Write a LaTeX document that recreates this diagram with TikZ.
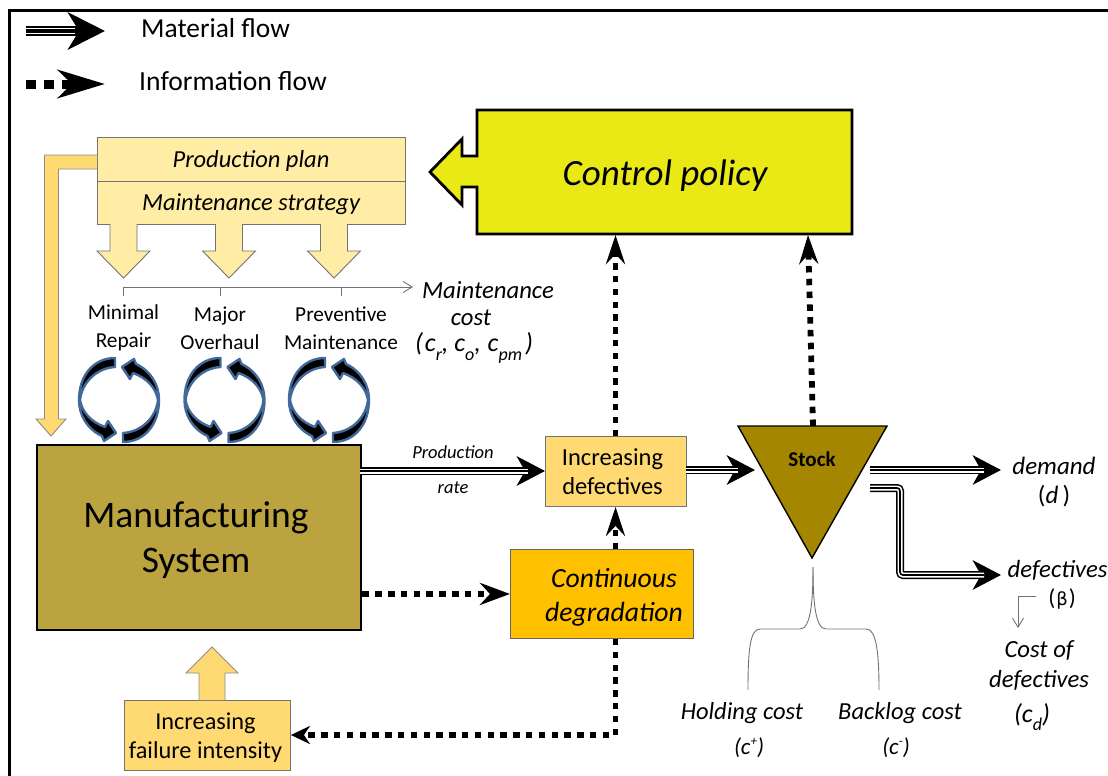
\documentclass[tikz,border=0pt]{standalone}
\usepackage{fontspec}
\setmainfont{Carlito}
\newfontfamily\dejafont{DejaVu Sans}
\usetikzlibrary{arrows.meta,calc}
\newcommand{\fs}[1]{\fontsize{#1}{#1}\selectfont}
\newcommand{\subs}[1]{\raisebox{-.32em}{\fs{18}\itshape #1}}
\newcommand{\sups}[1]{\raisebox{.42em}{\fs{13}\itshape #1}}
\tikzset{
  x=1pt,y=-1pt,
  lbl/.style={inner sep=0pt,align=center,text=black},
  pale/.style={fill=paley,draw=black!55,line width=.9pt},
  gold/.style={fill=goldy,draw=black!55,line width=.9pt},
  rectbox/.style={rectangle,inner sep=0pt,anchor=north west,align=center},
  thin gray/.style={draw=black!55,line width=.9pt},
  infoflow/.style={line width=5.8pt,dash pattern=on 6.5pt off 6.3pt,-{Stealth[length=29pt,width=19pt,inset=10pt]}},
  infoshort/.style={line width=5.8pt,dash pattern=on 6.5pt off 6.3pt,-{Stealth[length=19pt,width=18pt,inset=6pt]}},
  cyc/.style={fill=black,draw=cycblue,line width=2.4pt,line join=round},
}
\definecolor{paley}{HTML}{FFEDA6}
\definecolor{goldy}{HTML}{FFDA73}
\definecolor{cycblue}{HTML}{41699A}
\definecolor{ctrl}{HTML}{E9E916}
\definecolor{mfg}{HTML}{BBA340}
\definecolor{stockc}{HTML}{A58600}
\definecolor{cont}{HTML}{FFC000}
% triple-line material arrow
\newcommand{\matflow}[2][]{%
  \draw[line width=8pt,#1,-{Stealth[length=28pt,width=29pt,inset=8pt]}] #2;
  \draw[line width=5pt,white,#1,shorten >=17pt] #2;
  \draw[line width=1.7pt,#1,shorten >=17pt] #2;
}
\newcommand{\cycle}[1]{%
  \begin{scope}[shift={(#1,400)}]
    \foreach \r in {0,180}{
      \filldraw[cyc,rotate=\r] (-4,-42) -- (-4,-33) .. controls (-22,-32) and (-37,-18) .. (-39,0)
        .. controls (-37,12) and (-28,22) .. (-14,27) -- (-11,21) -- (-3,33) -- (-15,41) -- (-17,36)
        .. controls (-32,29) and (-40,15) .. (-40,0) .. controls (-40,-25) and (-25,-42) .. (-4,-42) -- cycle;
    }
  \end{scope}}
\begin{document}
\begin{tikzpicture}
\useasboundingbox (0,0) rectangle (1108,776);
% frame
\coordinate (fa) at (9.5,776); \coordinate (fb) at (9.5,10.5); \coordinate (fc) at (1108,10.5);
\draw[line width=2.2pt] (fa) -- (fb) -- (fc);

% legend
\coordinate (la) at (26,31); \coordinate (lb) at (105,31);
\coordinate (lc) at (26,84); \coordinate (ld) at (105,84);
\draw[line width=10pt,-{Stealth[length=37pt,width=37pt,inset=11pt]}] (la) -- (lb);
\draw[line width=6pt,white,shorten >=30pt] (la) -- (lb);
\draw[line width=3.6pt,shorten >=30pt] (la) -- (lb);
\draw[line width=9pt,black,dash pattern=on 10pt off 8pt,-{Stealth[length=47pt,width=28pt,inset=14pt]}] (lc) -- (ld);
\node[lbl,anchor=west,font=\fs{27.4}] (t1) at (141,28) {Material flow};
\node[lbl,anchor=west,font=\fs{27.6}] (t2) at (139,81) {Information flow};

% control policy
\filldraw[fill=ctrl,draw=black,line width=2.8pt,line join=miter]
  (477,110) -- (852,110) -- (852,234) -- (477,234) -- (477,187) -- (462,187) -- (462,205) -- (430,172)
  -- (462,139) -- (462,156) -- (477,156) -- cycle;
\node[lbl,font=\fs{37}\itshape] (cp) at (665,175.5) {Control policy};
\coordinate (cpa) at (615.5,235); \coordinate (cpb) at (808,235);

% plan boxes
\node[rectbox,pale,minimum width=308pt,minimum height=44pt] (plan) at (97,137) {};
\node[rectbox,pale,minimum width=308pt,minimum height=43pt] (strat) at (97,181) {};
\node[lbl,font=\fs{24.5}\itshape] (plant) at (251,160.5) {Production plan};
\node[lbl,font=\fs{24.5}\itshape] (stratt) at (251,204) {Maintenance strategy};

% elbow arrow
\filldraw[fill=goldy,draw=black!45,line width=.9pt] (97,155) -- (44.5,155) -- (44.5,419) -- (36,419) -- (51,436)
  -- (66,419) -- (58.5,419) -- (58.5,169) -- (97,169) ;
% down arrows
\foreach \c in {123.5,229,334}{
  \filldraw[pale] (\c-13.5,224) -- (\c-13.5,251) -- (\c-26.5,251) -- (\c,278) -- (\c+26.5,251) -- (\c+13.5,251) -- (\c+13.5,224);
}
% cost bracket
\coordinate (ba) at (123.5,296); \coordinate (bb) at (123.5,287); \coordinate (bc) at (413,287);
\coordinate (bd) at (220,287); \coordinate (be) at (220,296); \coordinate (bf) at (341,287); \coordinate (bg) at (341,296);
\draw[thin gray,-{Straight Barb[length=9pt,width=11pt]}] (ba) -- (bb) -- (bc);
\draw[thin gray] (bd) -- (be) (bf) -- (bg);

\node[lbl,font=\fs{21.3}] (mr) at (123.5,328) {Minimal\\[7pt]Repair};
\node[lbl,font=\fs{21.3}] (mo) at (220,328) {Major\\[7pt]Overhaul};
\node[lbl,font=\fs{21.3}] (pm) at (341,328) {Preventive\\[7pt]Maintenance};
\node[lbl,font=\fs{24.7}\itshape] (mc1) at (488,290.5) {Maintenance};
\node[lbl,font=\fs{24.7}\itshape] (mc2) at (471,318) {cost};
\node[lbl,font=\fs{26}\itshape] (mc3) at (474,348) {(\kern2pt c\subs{r}, c\subs{o}, \kern1pt c\subs{pm}\kern3pt)};

\cycle{119}\cycle{224.5}\cycle{329}

% main boxes
\node[rectbox,fill=mfg,draw=black,line width=2.4pt,minimum width=324pt,minimum height=185pt] (ms) at (36,444) {};
\node[lbl,font=\fs{37.5}] (mst) at (196,540) {Manufacturing\\[8pt]System};
\node[rectbox,gold,minimum width=141pt,minimum height=70pt] (inc) at (545,436) {};
\node[lbl,font=\fs{24.5}] (inct) at (612.5,471.5) {Increasing\\[4pt]defectives};
\node[rectbox,fill=cont,draw=black!60,line width=.9pt,minimum width=183pt,minimum height=89pt] (deg) at (510,549) {};
\node[lbl,font=\fs{27.7}\itshape] (degt) at (614,597) {Continuous\\[6.5pt]degradation};
\node[rectbox,gold,minimum width=166pt,minimum height=70pt] (fail) at (124,700) {};
\node[lbl,font=\fs{24.3}] (failt) at (205.5,737.5) {Increasing\\[5pt]failure intensity};
% up arrow
\filldraw[fill=goldy,draw=black!45,line width=.9pt] (199,700) -- (199,673) -- (186,673) -- (212,647) -- (238,673) -- (225,673) -- (225,700);

% stock
\coordinate (sa) at (738,426); \coordinate (sb) at (887,426); \coordinate (sc) at (812,558);
\filldraw[fill=stockc,draw=black,line width=1.4pt,line join=miter] (sa) -- (sb) -- (sc) -- cycle;
\node[lbl,font=\fs{21}\bfseries] (stock) at (812,459.5) {Stock};
\coordinate (stt) at (813,426);

% material flows
\coordinate (d1) at (755,470); \coordinate (d2) at (870,470); \coordinate (d3) at (1001,470);
\coordinate (c1) at (686,470);
\coordinate (e1) at (870,488); \coordinate (e2) at (900,488); \coordinate (e3) at (900,575); \coordinate (e4) at (1001,575);
\coordinate (m1) at (360,471); \coordinate (m2) at (545,471);
\matflow{(m1) -- (m2)}
\matflow{(c1) -- (d1)}
\matflow{(d2) -- (d3)}
\matflow[rounded corners=3pt]{(e1) -- (e2) -- (e3) -- (e4)}

% info flows
\coordinate (k1) at (615.5,735);
\draw[infoflow] (inc.north -| cpa) -- (cpa);
\draw[infoflow] (stt) -- (cpb);
\draw[infoflow,-{Stealth[length=30pt,width=22pt,inset=10pt]}] (ms.east |- deg.west) -- (deg.west);
\draw[infoflow] (deg.north -| cpa) -- (inc.south -| cpa);
\draw[infoshort] (deg.south -| cpa) -- (k1) -- (fail.east |- k1);

\node[lbl,font=\fs{18.5}\itshape] (pr1) at (453,452.5) {Production};
\node[lbl,font=\fs{18.5}\itshape] (pr2) at (453,487.5) {rate};
\node[lbl,font=\fs{25}\itshape] (dem) at (1054,465.5) {demand};
\node[lbl,font=\fs{25}] (dem2) at (1054,496) {(\textit{d}\,)};
\node[lbl,font=\fs{24.7}\itshape] (def) at (1057.5,570.5) {defectives};
\node[lbl,font=\fs{23}] (bet) at (1062,598.5) {(\kern1pt{\dejafont\fs{18}β}\kern1pt)};
\coordinate (g1) at (1036,596); \coordinate (g2) at (1018,596); \coordinate (g3) at (1018,628);
\draw[thin gray,-{Straight Barb[length=9pt,width=11pt]}] (g1) -- (g2) -- (g3);
\node[lbl,font=\fs{24.7}\itshape] (cd1) at (1039,650.5) {Cost of};
\node[lbl,font=\fs{24.7}\itshape] (cd2) at (1039,680.5) {defectives};
\node[lbl,font=\fs{26}\itshape] (cd3) at (1032,717) {(c\subs{d})};

% brace
\coordinate (h1) at (813,567); \coordinate (h2) at (748,690); \coordinate (h3) at (879,690);
\draw[thin gray] (h1) .. controls (813,600) and (811,629) .. (800,629) -- (760,629) .. controls (750,629) and (748,650) .. (h2);
\draw[thin gray] (h1) .. controls (813,600) and (815,629) .. (826,629) -- (866,629) .. controls (876,629) and (879,650) .. (h3);
\node[lbl,font=\fs{24.5}\itshape] (hc) at (742,713) {Holding cost};
\node[lbl,font=\fs{24.5}\itshape] (bc1) at (900,713) {Backlog cost};
\node[lbl,font=\fs{23}\itshape] (hc2) at (749,748) {(c\sups{+})};
\node[lbl,font=\fs{23}\itshape] (bc2) at (896,748) {(c\sups{-})};
\end{tikzpicture}
\end{document}
